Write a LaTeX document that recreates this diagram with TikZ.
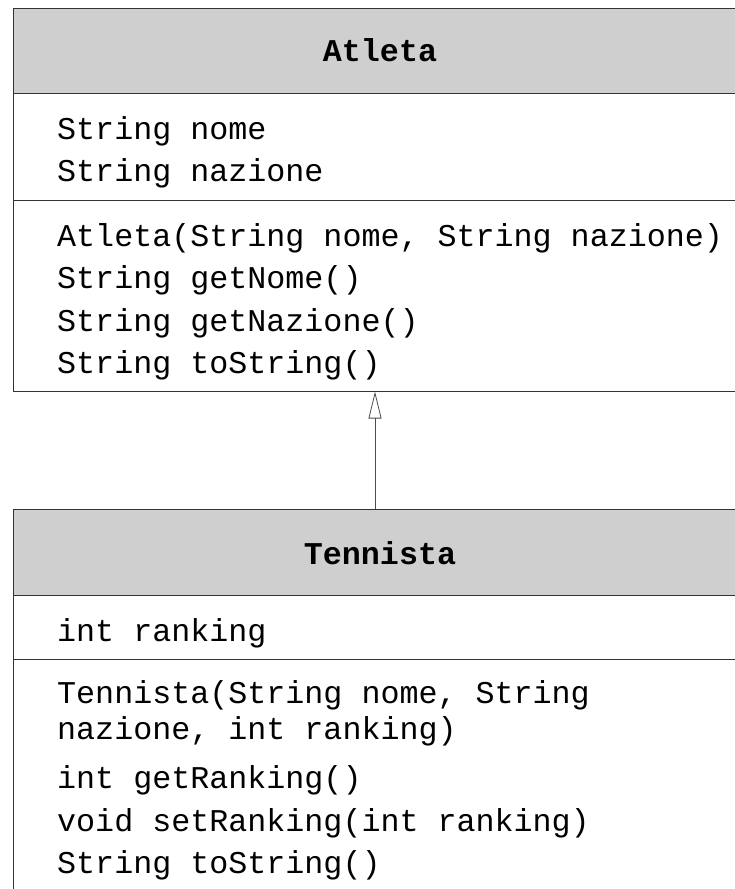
\documentclass[tikz,border=0pt]{standalone}
\usepackage{fontspec}
\setmonofont{Liberation Mono}
\usetikzlibrary{arrows.meta,positioning}

\tikzset{
  umlhead/.style={draw=black!80,fill=black!19,minimum width=734pt,inner sep=0pt,line width=1pt},
  umlsect/.style={draw=black!80,fill=white,minimum width=734pt,inner sep=0pt,line width=1pt},
  umltitle/.style={font=\fontsize{31.7}{38}\selectfont\ttfamily\bfseries,inner sep=0pt},
  umlline/.style={font=\fontsize{31.7}{38}\selectfont\ttfamily,anchor=base west,inner sep=0pt}
}

\begin{document}
\begin{tikzpicture}[x=1pt,y=-1pt]
\useasboundingbox (0,0) rectangle (734,889);
% class Atleta
\node[umlhead,minimum height=85pt] (atleta) at (380,50.5) {};
\node[umlsect,minimum height=107pt] (atletaAttr) at (380,146.5) {};
\node[umlsect,minimum height=191pt] (atletaOps) at (380,295.5) {};
\node[umltitle] (atletaName) at (380,50) {Atleta};
\node[umlline] (a1) at (57,139) {String nome};
\node[umlline] (a2) at (57,181) {String nazione};
\node[umlline] (a3) at (57,246) {Atleta(String nome, String nazione)};
\node[umlline] (a4) at (57,288) {String getNome()};
\node[umlline] (a5) at (57,331) {String getNazione()};
\node[umlline] (a6) at (57,373) {String toString()};
% class Tennista
\node[umlhead,minimum height=86pt] (tennista) at (380,552) {};
\node[umlsect,minimum height=64pt] (tennistaAttr) at (380,627) {};
\node[umlsect,minimum height=250pt] (tennistaOps) at (380,784) {};
\node[umltitle] (tennistaName) at (380,553) {Tennista};
\node[umlline] (t1) at (57,641) {int ranking};
\node[umlline] (t2) at (57,703) {Tennista(String nome, String};
\node[umlline] (t3) at (57,739) {nazione, int ranking)};
\node[umlline] (t4) at (57,788) {int getRanking()};
\node[umlline] (t5) at (57,831) {void setRanking(int ranking)};
\node[umlline] (t6) at (57,873) {String toString()};
% generalization
\coordinate (gen) at (375,0);
\draw[black!70,line width=0.8pt,-{Triangle[open,length=27pt,width=13pt]}] (tennista.north -| gen) -- (atletaOps.south -| gen);
\end{tikzpicture}
\end{document}
